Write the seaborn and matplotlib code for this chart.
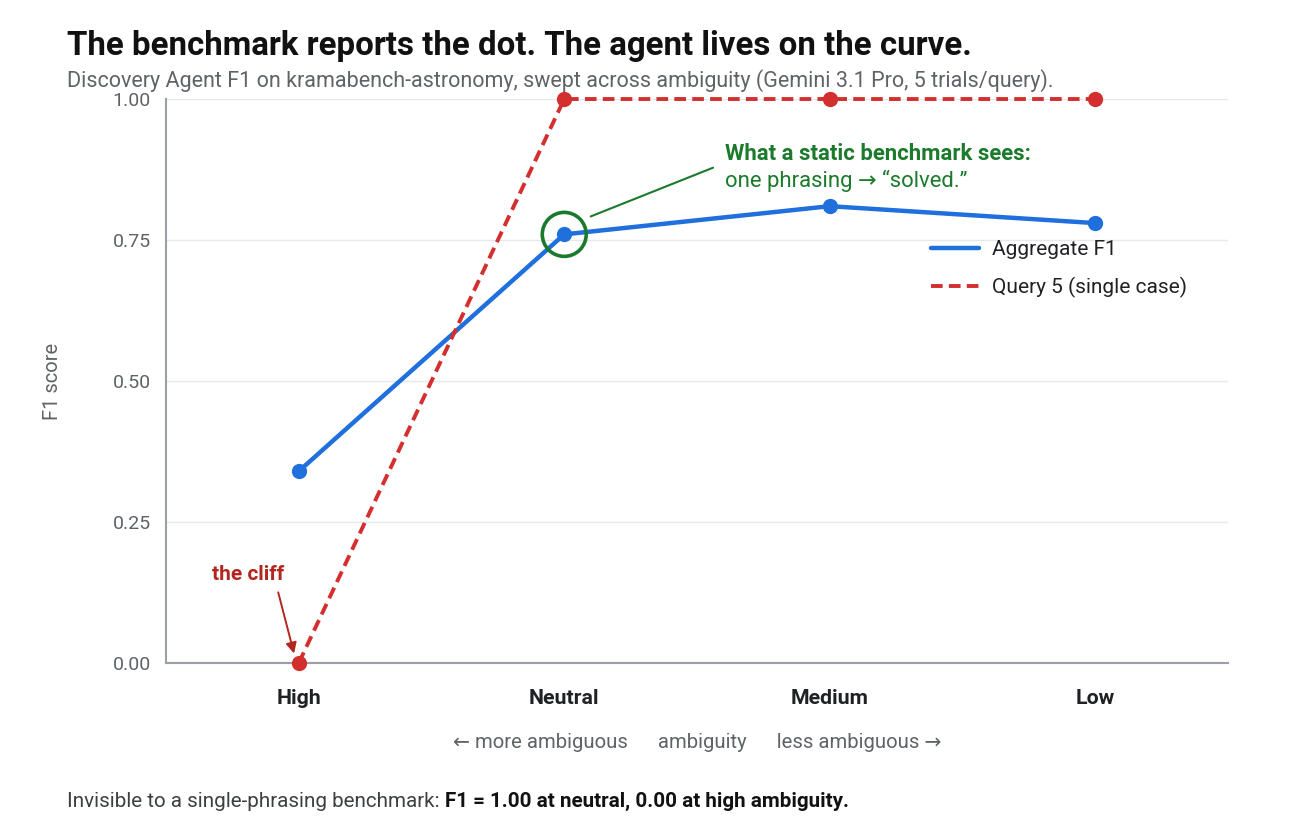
import matplotlib
matplotlib.use("Agg")
import matplotlib.pyplot as plt
import seaborn as sns
import pandas as pd
from matplotlib.patches import Ellipse

categories = ["High", "Neutral", "Medium", "Low"]
aggregate_f1 = [0.34, 0.76, 0.81, 0.78]
query5_f1 = [0.00, 1.00, 1.00, 1.00]
y_ticks = [0.00, 0.25, 0.50, 0.75, 1.00]
y_tick_labels = ["0.00", "0.25", "0.50", "0.75", "1.00"]

sns.set_theme(style="white")
plt.rcParams["font.family"] = ["Roboto", "DejaVu Sans"]

BLUE = "#1f6fdc"
RED = "#d32f2f"
RED_DARK = "#b3261e"
GREEN = "#1b7a2b"
GRAY = "#5f6368"
SPINE = "#9aa0a6"

x_pos = list(range(len(categories)))
df_agg = pd.DataFrame({"x": x_pos, "F1": aggregate_f1, "series": "Aggregate F1"})
df_q5 = pd.DataFrame({"x": x_pos, "F1": query5_f1, "series": "Query 5 (single case)"})

fig = plt.figure(figsize=(12.96, 8.30), dpi=100)
ax = fig.add_axes([0.1281, 0.2012, 0.8194, 0.6795])

sns.lineplot(data=df_agg, x="x", y="F1", ax=ax, color=BLUE, linewidth=3.2,
             marker="o", markersize=11, markeredgewidth=0, label="Aggregate F1",
             zorder=4, clip_on=False)
sns.lineplot(data=df_q5, x="x", y="F1", ax=ax, color=RED, linewidth=2.8,
             linestyle=(0, (3, 1.6)), marker="o", markersize=11, markeredgewidth=0,
             label="Query 5 (single case)", zorder=5, clip_on=False)

ax.set_xlim(-0.5, 3.5)
ax.set_ylim(0, 1.0)
ax.set_xticks(x_pos)
ax.set_xticklabels(categories, fontsize=15.3, fontweight="bold", color="#202124")
ax.set_yticks(y_ticks)
ax.set_yticklabels(y_tick_labels, fontsize=14, color=GRAY)
ax.tick_params(axis="x", length=0, pad=19)
ax.tick_params(axis="y", length=5, color=SPINE, width=1, pad=6)
ax.grid(axis="y", color="#e6e8eb", linewidth=1)
ax.set_axisbelow(True)
for s in ["top", "right"]:
    ax.spines[s].set_visible(False)
for s in ["left", "bottom"]:
    ax.spines[s].set_color(SPINE)
    ax.spines[s].set_linewidth(1.5)

ax.set_xlabel("\u2190 more ambiguous      ambiguity      less ambiguous \u2192",
              fontsize=14.6, color=GRAY, labelpad=18)
ax.set_ylabel("F1 score", fontsize=14.5, color=GRAY, labelpad=36)

leg = ax.legend(loc="upper left", bbox_to_anchor=(0.703, 0.783), frameon=False,
                fontsize=15, handlelength=2.3, handletextpad=0.6, labelspacing=0.85)
for h in leg.get_lines():
    h.set_marker("")
for t in leg.get_texts():
    t.set_color("#202124")

# highlight circle around Neutral aggregate point
x0, y0 = 1, aggregate_f1[1]
circ = Ellipse((x0, y0), width=44 / 266.0, height=44 / 564.0, fill=False,
               edgecolor=GREEN, linewidth=2.6, zorder=6)
ax.add_patch(circ)
ax.annotate("", xy=(x0 + 0.09, y0 + 0.03), xytext=(1.57, 0.88),
            arrowprops=dict(arrowstyle="-", color=GREEN, lw=1.5), zorder=6)
ax.text(1.605, 0.903, "What a static benchmark sees:", fontsize=15.9, fontweight="bold",
        color=GREEN, va="center", ha="left")
ax.text(1.605, 0.855, "one phrasing \u2192 \u201csolved.\u201d", fontsize=15.9,
        color=GREEN, va="center", ha="left")

# the cliff
ax.text(-0.19, 0.157, "the cliff", fontsize=15, fontweight="bold", color=RED_DARK,
        va="center", ha="center")
ax.annotate("", xy=(-0.015, 0.012), xytext=(-0.08, 0.13),
            arrowprops=dict(arrowstyle="-|>", color=RED_DARK, lw=1.4,
                            mutation_scale=16), zorder=6)

fig.text(67 / 1296, 1 - 46 / 830,
         "The benchmark reports the dot. The agent lives on the curve.",
         fontsize=23.8, fontweight="bold", color="#111111", va="center", ha="left")
fig.text(67 / 1296, 1 - 81 / 830,
         "Discovery Agent F1 on kramabench-astronomy, swept across ambiguity (Gemini 3.1 Pro, 5 trials/query).",
         fontsize=15.5, color=GRAY, va="center", ha="left")

t1 = fig.text(67 / 1296, 1 - 801 / 830, "Invisible to a single-phrasing benchmark: ",
              fontsize=14.9, color="#3c4043", va="center", ha="left")
fig.canvas.draw()
bb = t1.get_window_extent(renderer=fig.canvas.get_renderer())
fig.text(bb.x1 / fig.bbox.width, 1 - 801 / 830,
         "F1 = 1.00 at neutral, 0.00 at high ambiguity.",
         fontsize=14.9, fontweight="bold", color="#111111", va="center", ha="left")

fig.savefig("out.png", dpi=100, facecolor="white")
